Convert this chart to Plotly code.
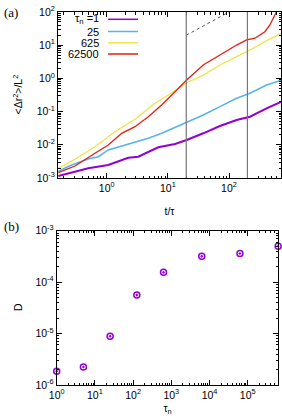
import plotly.graph_objects as go

W, H = 282, 416

# ---------------- data: panel (a) ----------------
t_p = [0.162, 0.50, 1.06, 2.25, 3.28, 4.79, 6.97, 13.1, 20.3, 37.9, 71, 133, 220, 411, 723]
msd_p = [1.15e-3, 1.96e-3, 2.47e-3, 4.08e-3, 4.38e-3, 6.2e-3, 8.4e-3, 0.0106, 0.0140,
         0.0222, 0.0368, 0.0558, 0.0702, 0.1256, 0.199]

t_b = [0.162, 0.268, 0.50, 0.73, 1.06, 1.76, 2.90, 4.79, 7.92, 13.1, 20.3, 37.9, 71, 133, 220, 411, 723]
msd_b = [1.6e-3, 2.47e-3, 3.73e-3, 4.38e-3, 6.97e-3, 9.2e-3, 0.0124, 0.0157, 0.0222, 0.0333,
         0.0463, 0.079, 0.141, 0.252, 0.356, 0.632, 0.895]

t_y = [0.162, 0.303, 0.644, 1.37, 2.90, 6.15, 13.1, 20.3, 37.9, 71, 133, 220, 411, 723]
msd_y = [1.96e-3, 3.66e-3, 8.77e-3, 0.0248, 0.0586, 0.178, 0.426, 0.741, 1.26, 2.53, 4.51,
         7.17, 13.7, 22.8]

t_r = [0.162, 0.303, 0.644, 1.06, 1.76, 2.90, 4.79, 7.92, 13.1, 20.3, 37.9, 71, 133, 194,
       265, 386, 466, 562, 614]
msd_r = [1.45e-3, 2.30e-3, 5.54e-3, 9.86e-3, 0.0222, 0.0351, 0.0702, 0.158, 0.398, 0.895,
         2.53, 5.07, 10.1, 14.4, 16.2, 25.5, 40.6, 81, 115]

series_labels = ["\u03c4<sub>n</sub> =1", "25", "625", "62500"]
series_colors = ["#9400D3", "#56B4E9", "#F0E442", "#E51E10"]

guide_t = [20, 100]
guide_msd = [20, 100]
vlines_t = [20, 200]

# ---------------- data: panel (b) ----------------
tau_n = [1, 5, 25, 125, 625, 6250, 62500, 625000]
D = [1.86e-6, 2.24e-6, 8.9e-6, 5.6e-5, 1.55e-4, 3.2e-4, 3.6e-4, 5.0e-4]

xa_ticks = [1, 10, 100]
xa_text = ["10<sup>0</sup>", "10<sup>1</sup>", "10<sup>2</sup>"]
ya_ticks = [1e-3, 1e-2, 1e-1, 1, 10, 100]
ya_text = ["10<sup>-3</sup>", "10<sup>-2</sup>", "10<sup>-1</sup>", "10<sup>0</sup>",
           "10<sup>1</sup>", "10<sup>2</sup>"]
xb_ticks = [1, 10, 100, 1e3, 1e4, 1e5]
xb_text = ["10<sup>0</sup>", "10<sup>1</sup>", "10<sup>2</sup>", "10<sup>3</sup>",
           "10<sup>4</sup>", "10<sup>5</sup>"]
yb_ticks = [1e-6, 1e-5, 1e-4, 1e-3]
yb_text = ["10<sup>-6</sup>", "10<sup>-5</sup>", "10<sup>-4</sup>", "10<sup>-3</sup>"]


def minors(lo, hi):
    out = []
    for e in range(lo, hi):
        for m in range(2, 10):
            out.append(m * 10 ** e)
    return out


fig = go.Figure()

curves = [(t_p, msd_p, 2.0), (t_b, msd_b, 1.5), (t_y, msd_y, 1.3), (t_r, msd_r, 1.3)]
for (tx, vy, lw), name, col in zip(curves, series_labels, series_colors):
    fig.add_trace(go.Scatter(x=tx, y=vy, mode="lines", name=name,
                             line=dict(color=col, width=lw), xaxis="x", yaxis="y",
                             showlegend=False))

for v in vlines_t:
    fig.add_shape(type="line", xref="x", yref="y domain", x0=v, x1=v, y0=0, y1=1,
                  line=dict(color="#777777", width=1.2))

fig.add_trace(go.Scatter(x=guide_t, y=guide_msd, mode="lines",
                         line=dict(color="#555555", width=1, dash="3px,3px"),
                         xaxis="x", yaxis="y", showlegend=False))

fig.add_trace(go.Scatter(x=tau_n, y=D, mode="markers",
                         marker=dict(symbol="circle-open-dot", size=6, color="#9400D3",
                                     line=dict(width=1.5, color="#9400D3")),
                         xaxis="x2", yaxis="y2", showlegend=False, cliponaxis=False))

# manual legend (text right-aligned, sample to the right, as in gnuplot)
leg_rows = [19.3, 31.5, 42.8, 54]
for name, col, ry in zip(series_labels, series_colors, leg_rows):
    fig.add_annotation(xref="paper", yref="paper", x=101 / W, y=1 - ry / H, text=name,
                       showarrow=False, xanchor="right", yanchor="middle",
                       font=dict(size=11, color="black"))
    fig.add_shape(type="line", xref="paper", yref="paper", x0=108 / W, x1=138 / W,
                  y0=1 - ry / H, y1=1 - ry / H, line=dict(color=col, width=1.5))

axis_common = dict(type="log", showline=True, linecolor="black", linewidth=1,
                   mirror="ticks", ticks="inside", ticklen=5, tickcolor="black",
                   showgrid=False, zeroline=False, tickmode="array", automargin=False,
                   tickfont=dict(size=10.5, color="black", family="Liberation Sans"))

fig.update_layout(
    width=W, height=H, margin=dict(l=0, r=0, t=0, b=0),
    paper_bgcolor="white", plot_bgcolor="white", showlegend=False,
    font=dict(family="Liberation Sans", size=10.5, color="black"),
    xaxis=dict(axis_common, domain=[58 / W, 281 / W], range=[-0.796, 2.85],
               tickvals=xa_ticks, ticktext=xa_text, anchor="y",
               minor=dict(tickvals=minors(-1, 3), ticks="inside", ticklen=2.5,
                          tickcolor="black"),
               title=dict(text="t/\u03c4", font=dict(size=10.5))),
    yaxis=dict(axis_common, domain=[1 - 178 / H, 1 - 12 / H], range=[-3, 2],
               tickvals=ya_ticks, ticktext=ya_text, anchor="x",
               minor=dict(tickvals=minors(-3, 2), ticks="inside", ticklen=2.5,
                          tickcolor="black")),
    xaxis2=dict(axis_common, domain=[56.7 / W, 278.3 / W], range=[0, 5.8],
                tickvals=xb_ticks, ticktext=xb_text, anchor="y2",
                minor=dict(tickvals=minors(0, 6), ticks="inside", ticklen=2.5,
                           tickcolor="black"),
                title=dict(text="\u03c4<sub>n</sub>", font=dict(size=10.5))),
    yaxis2=dict(axis_common, domain=[1 - 385 / H, 1 - 230.7 / H], range=[-6, -3],
                tickvals=yb_ticks, ticktext=yb_text, anchor="x2",
                minor=dict(tickvals=minors(-6, -3), ticks="inside", ticklen=2.5,
                           tickcolor="black")),
)

# y-axis titles
fig.add_annotation(xref="paper", yref="paper", x=17.5 / W, y=1 - 95 / H,
                   text="&lt;\u0394r<sup>2</sup>&gt;/L<sup>2</sup>", textangle=-90,
                   showarrow=False, xanchor="center", yanchor="middle",
                   font=dict(size=10.5, color="black"))
fig.add_annotation(xref="paper", yref="paper", x=18 / W, y=1 - 307 / H, text="D",
                   textangle=-90, showarrow=False, xanchor="center", yanchor="middle",
                   font=dict(size=10.5, color="black"))

fig.add_annotation(xref="paper", yref="paper", x=2 / W, y=1 - 12 / H, text="(a)",
                   showarrow=False, xanchor="left", yanchor="middle",
                   font=dict(family="Liberation Serif", size=13, color="black"))
fig.add_annotation(xref="paper", yref="paper", x=2 / W, y=1 - 227 / H, text="(b)",
                   showarrow=False, xanchor="left", yanchor="middle",
                   font=dict(family="Liberation Serif", size=13, color="black"))

fig.write_html("out.html", config={"displayModeBar": False},
               post_script="document.body.style.margin='0px';")
